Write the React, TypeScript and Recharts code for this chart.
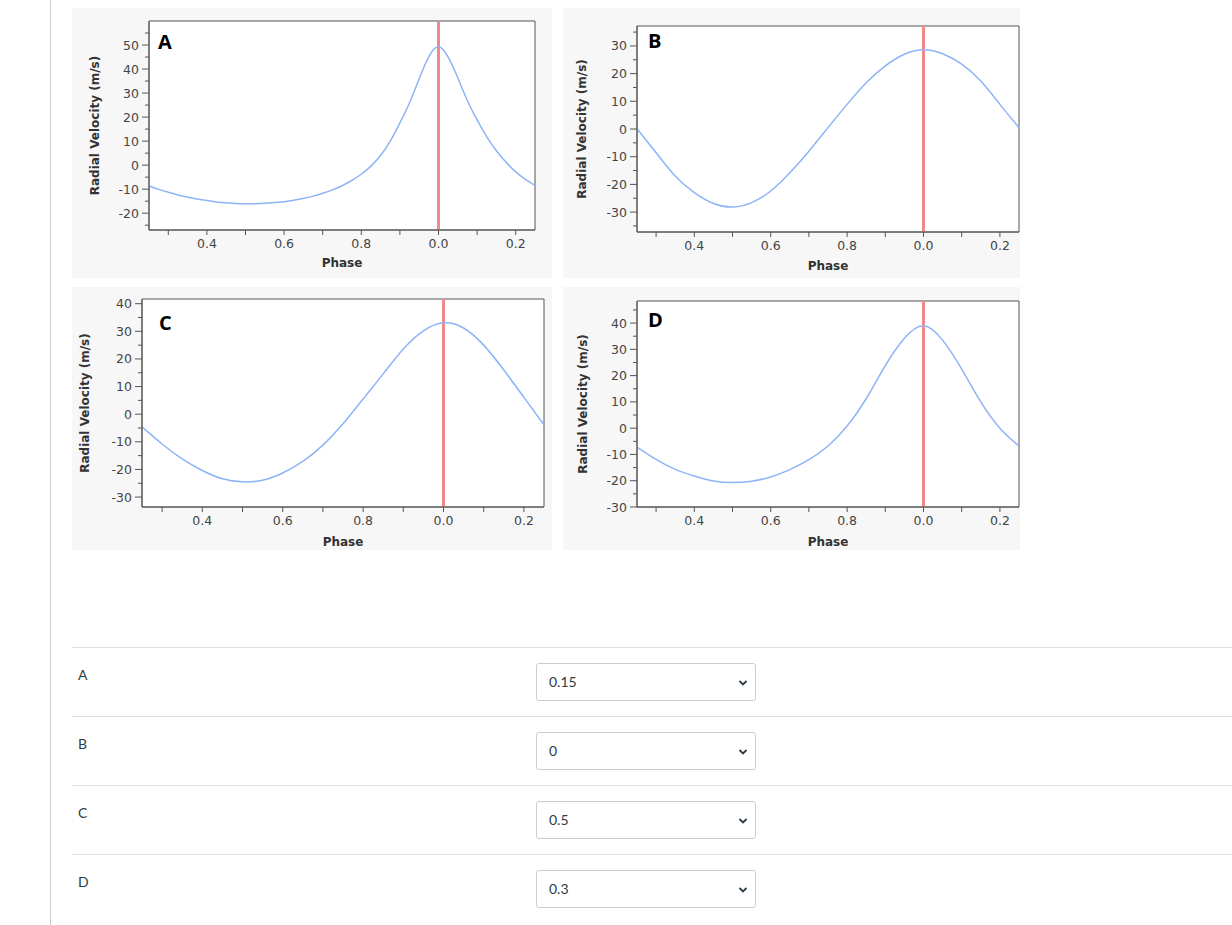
import React from 'react';
import { LineChart, Line, XAxis, YAxis, CartesianGrid, ReferenceLine, ReferenceArea } from 'recharts';

// phase grids (A is read every 0.025 because of its sharp peak)
const phaseA = [
  0.25, 0.275, 0.3, 0.325, 0.35, 0.375, 0.4, 0.425, 0.45, 0.475, 0.5, 0.525, 0.55, 0.575, 0.6, 0.625, 0.65, 0.675, 0.7, 0.725,
  0.75, 0.775, 0.8, 0.825, 0.85, 0.875, 0.9, 0.925, 0.95, 0.975, 1.0, 1.025, 1.05, 1.075, 1.1, 1.125, 1.15, 1.175, 1.2, 1.225, 1.25,
];
const phase = [0.25, 0.3, 0.35, 0.4, 0.45, 0.5, 0.55, 0.6, 0.65, 0.7, 0.75, 0.8, 0.85, 0.9, 0.95, 1.0, 1.05, 1.1, 1.15, 1.2, 1.25];

// radial velocity (m/s)
const rvA = [
  -8.7, -10.1, -11.3, -12.4, -13.3, -14.1, -14.7, -15.3, -15.7, -16.0, -16.1, -16.05, -15.9, -15.6, -15.2, -14.6, -13.8, -12.9, -11.7, -10.3,
  -8.6, -6.4, -3.8, -0.4, 4.0, 10.0, 17.6, 26.0, 36.0, 45.2, 49.3, 45.0, 36.4, 26.8, 18.8, 11.8, 6.0, 1.2, -2.8, -5.9, -8.4,
];
const rvB = [0.1, -8.6, -17.0, -23.0, -26.9, -28.2, -26.6, -22.4, -15.8, -8.0, 0.5, 8.9, 16.7, 22.8, 27.0, 28.6, 27.2, 23.4, 17.3, 8.9, 0.5];
const rvC = [-4.6, -10.8, -16.2, -20.4, -23.4, -24.5, -23.9, -21.3, -17.1, -11.2, -3.5, 5.5, 14.6, 23.6, 30.2, 33.1, 31.2, 25.0, 16.0, 6.1, -3.9];
const rvD = [-7.2, -11.9, -15.7, -18.2, -20.1, -20.7, -20.2, -18.6, -15.8, -12.0, -6.8, 0.8, 11.2, 23.8, 34.2, 39.0, 33.5, 22.5, 10.0, 0.0, -6.8];

const xTicks = [0.3, 0.4, 0.5, 0.6, 0.7, 0.8, 0.9, 1.0, 1.1, 1.2];
const yTicksA = [-25, -20, -15, -10, -5, 0, 5, 10, 15, 20, 25, 30, 35, 40, 45, 50, 55];
const yTicksB = [-35, -30, -25, -20, -15, -10, -5, 0, 5, 10, 15, 20, 25, 30, 35];
const yTicksC = [-30, -25, -20, -15, -10, -5, 0, 5, 10, 15, 20, 25, 30, 35, 40];
const yTicksD = [-30, -25, -20, -15, -10, -5, 0, 5, 10, 15, 20, 25, 30, 35, 40, 45];

const rowLabels = ['A', 'B', 'C', 'D'];
const rowAnswers = ['0.15', '0', '0.5', '0.3'];

const AXIS = '#555';
const TICK_TEXT = '#444';
const FONT = '"DejaVu Sans", Verdana, sans-serif';

const phaseLabel = (v: number) => (Math.round(v * 10) % 2 === 0 ? (v % 1).toFixed(1) : '');

const YTick = (props: any) => {
  const { x, y, payload } = props;
  const v = payload.value;
  const major = v % 10 === 0;
  const axisX = x + 10; // tickSize 7 + tickMargin 3
  return (
    <g>
      <line x1={axisX - (major ? 7 : 4)} x2={axisX} y1={y} y2={y} stroke={AXIS} />
      {major && (
        <text x={x} y={y} dy="0.36em" textAnchor="end" fill={TICK_TEXT} fontSize={12.5} fontFamily={FONT}>
          {v}
        </text>
      )}
    </g>
  );
};

type PanelProps = {
  left: number;
  top: number;
  width: number;
  height: number;
  margin: { top: number; right: number; left: number; bottom: number };
  phases: number[];
  rv: number[];
  yDomain: [number, number];
  yTicks: number[];
  letter: string;
  letterX: number;
  letterY: number;
  yTitleOffset: number;
  xTitleOffset: number;
};

const Panel = (p: PanelProps) => {
  const data = p.phases.map((ph, i) => ({ phase: ph, rv: p.rv[i] }));
  return (
    <div style={{ position: 'absolute', left: p.left, top: p.top, width: p.width, height: p.height, background: '#f7f7f7' }}>
      <LineChart width={p.width} height={p.height} data={data} margin={p.margin}>
        <CartesianGrid fill="#fff" horizontal={false} vertical={false} />
        <XAxis
          dataKey="phase"
          type="number"
          domain={[0.25, 1.25]}
          ticks={xTicks}
          interval={0}
          tickFormatter={phaseLabel}
          height={40}
          tickSize={5}
          tickMargin={4}
          stroke={AXIS}
          tick={{ fill: TICK_TEXT, fontSize: 12.5, fontFamily: FONT }}
          label={{
            value: 'Phase',
            position: 'insideBottom',
            offset: p.xTitleOffset,
            style: { fontWeight: 'bold', fontSize: 12, fontFamily: FONT, fill: '#333' },
          }}
        />
        <YAxis
          type="number"
          domain={p.yDomain}
          ticks={p.yTicks}
          interval={0}
          width={60}
          tickSize={7}
          tickMargin={3}
          tickLine={false}
          stroke={AXIS}
          tick={<YTick />}
          label={{
            value: 'Radial Velocity (m/s)',
            angle: -90,
            position: 'insideLeft',
            offset: p.yTitleOffset,
            style: { textAnchor: 'middle', fontWeight: 'bold', fontSize: 12, fontFamily: FONT, fill: '#333' },
          }}
        />
        <ReferenceArea x1={0.25} x2={1.25} y1={p.yDomain[0]} y2={p.yDomain[1]} fill="none" stroke={AXIS} strokeOpacity={1} />
        <ReferenceLine x={1.0} stroke="#f08a8a" strokeWidth={3} />
        <Line type="natural" dataKey="rv" stroke="#8db4f6" strokeWidth={1.5} dot={false} isAnimationActive={false} />
      </LineChart>
      <div
        style={{
          position: 'absolute',
          left: p.letterX,
          top: p.letterY,
          fontFamily: '"Open Sans", sans-serif',
          fontWeight: 700,
          fontSize: 20,
          lineHeight: '20px',
          color: '#000',
        }}
      >
        {p.letter}
      </div>
    </div>
  );
};

const Chevron = () => (
  <svg width="10" height="8" viewBox="0 0 10 8" style={{ position: 'absolute', right: 7, top: 15 }}>
    <path d="M1.5 2 L5 5.5 L8.5 2" fill="none" stroke="#2d3b45" strokeWidth="1.8" />
  </svg>
);

export default function App() {
  return (
    <div style={{ position: 'absolute', left: 0, top: 0, width: 1232, height: 925, background: '#fff', overflow: 'hidden' }}>
      <div style={{ position: 'absolute', left: 50, top: 0, width: 1, height: 925, background: '#c7cdd1' }} />

      <Panel
        left={72} top={8} width={480} height={270}
        margin={{ top: 13, right: 17, left: 17, bottom: 8 }}
        phases={phaseA} rv={rvA} yDomain={[-27, 60]} yTicks={yTicksA}
        letter="A" letterX={86} letterY={23.5} yTitleOffset={6} xTitleOffset={3}
      />
      <Panel
        left={563} top={8} width={457} height={270}
        margin={{ top: 18, right: 1, left: 14, bottom: 6 }}
        phases={phase} rv={rvB} yDomain={[-37.2, 37.2]} yTicks={yTicksB}
        letter="B" letterX={85} letterY={22.5} yTitleOffset={4.7} xTitleOffset={2.3}
      />
      <Panel
        left={72} top={287} width={480} height={263}
        margin={{ top: 12, right: 8, left: 10, bottom: 3 }}
        phases={phase} rv={rvC} yDomain={[-33.6, 41.7]} yTicks={yTicksC}
        letter="C" letterX={87} letterY={25.5} yTitleOffset={3} xTitleOffset={0.7}
      />
      <Panel
        left={563} top={287} width={457} height={263}
        margin={{ top: 14, right: 1, left: 14, bottom: 3 }}
        phases={phase} rv={rvD} yDomain={[-30, 48.4]} yTicks={yTicksD}
        letter="D" letterX={85} letterY={22.5} yTitleOffset={5.7} xTitleOffset={0.7}
      />

      {rowLabels.map((label, i) => (
        <React.Fragment key={label}>
          <div style={{ position: 'absolute', left: 72, right: 0, top: 647 + 69 * i, height: 1, background: '#dde1e4' }} />
          <div
            style={{
              position: 'absolute',
              left: 78,
              top: 666 + 69 * i,
              fontFamily: 'Lato, sans-serif',
              fontSize: 14,
              lineHeight: '18px',
              color: '#2d3b45',
            }}
          >
            {label}
          </div>
          <div
            style={{
              position: 'absolute',
              left: 536,
              top: 663 + 69 * i,
              width: 220,
              height: 38,
              boxSizing: 'border-box',
              border: '1px solid #c7cdd1',
              borderRadius: 3,
              background: '#fff',
              fontFamily: 'Lato, sans-serif',
              fontSize: 14,
              lineHeight: '36px',
              color: '#2d3b45',
              paddingLeft: 12,
            }}
          >
            {rowAnswers[i]}
            <Chevron />
          </div>
        </React.Fragment>
      ))}
    </div>
  );
}
